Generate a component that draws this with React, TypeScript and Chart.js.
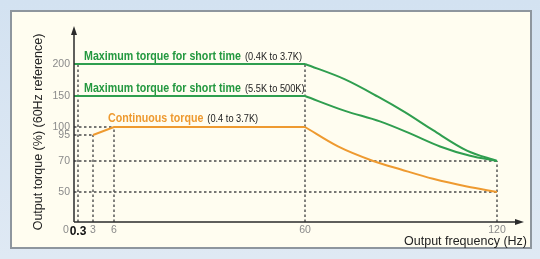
import React, { useEffect, useRef } from 'react';
import { Chart, registerables, LinearScale } from 'chart.js';

// ---- data ----
const X_TICKS = [0, 0.3, 3, 6, 60, 120];
const X_TICK_LABELS = ['', '0.3', '3', '6', '60', '120'];
const Y_TICKS = [50, 70, 95, 100, 150, 200];

// Maximum torque for short time (0.4K to 3.7K)
const maxSmallFlatFreq = [0, 60];
const maxSmallFlatTorque = [200, 200];
const maxSmallFallFreq = [60, 72.5, 82.8, 91.2, 100, 110.6, 120];
const maxSmallFallTorque = [200, 176, 149, 124, 98, 80, 70];

// Maximum torque for short time (5.5K to 500K)
const maxLargeFlatFreq = [0, 60];
const maxLargeFlatTorque = [150, 150];
const maxLargeFallFreq = [60, 72.5, 83.4, 92.8, 102.2, 111.6, 120];
const maxLargeFallTorque = [150, 126, 109, 96, 84, 75, 70];

// Continuous torque (0.4 to 3.7K)
const contFlatFreq = [3, 6, 60];
const contFlatTorque = [95, 100, 100];
const contFallFreq = [60, 70.3, 81.3, 90, 100, 110.6, 120];
const contFallTorque = [100, 84, 70, 64.5, 58.5, 53.5, 50];

// dashed reference lines
const vGuideFreq = [0.3, 3, 6, 60, 120];
const vGuideTop = [200, 95, 100, 200, 70];
const hGuideTorque = [100, 95, 70, 50];
const hGuideEnd = [6, 3, 120, 120];

const GREEN = '#2f9e4f';
const GREEN_TEXT = '#23983f';
const ORANGE = '#ee9a30';
const GUIDE = '#4a4a4a';

const SANS = "'Liberation Sans', Arial, sans-serif";

// ---- piecewise scale for a schematic (non-proportional) axis ----
class PiecewiseScale extends LinearScale {
  static id = 'piecewise';
  static defaults = { ticks: { callback: (v: any) => String(v) } };
  determineDataLimits() {
    const k = (this.options as any).knots as number[][];
    this.min = k[0][0];
    this.max = k[k.length - 1][0];
  }
  buildTicks() {
    const vals = (this.options as any).tickValues as number[];
    return vals.map((v) => ({ value: v }));
  }
  _frac(value: number) {
    const k = (this.options as any).knots as number[][];
    const total = k[k.length - 1][1];
    for (let i = 0; i < k.length - 1; i++) {
      const [v0, p0] = k[i];
      const [v1, p1] = k[i + 1];
      if (value <= v1 || i === k.length - 2) {
        return (p0 + ((value - v0) / (v1 - v0)) * (p1 - p0)) / total;
      }
    }
    return 1;
  }
  getPixelForValue(value: any) {
    if (value === null || value === undefined || isNaN(value)) return NaN;
    return this.getPixelForDecimal(this._frac(+value));
  }
  getValueForPixel(pixel: number) {
    const k = (this.options as any).knots as number[][];
    const total = k[k.length - 1][1];
    const d = this.getDecimalForPixel(pixel) * total;
    for (let i = 0; i < k.length - 1; i++) {
      const [v0, p0] = k[i];
      const [v1, p1] = k[i + 1];
      if (d <= p1 || i === k.length - 2) {
        return v0 + ((d - p0) / (p1 - p0)) * (v1 - v0);
      }
    }
    return this.max;
  }
}

Chart.register(...registerables, PiecewiseScale);

const toPts = (xs: number[], ys: number[]) => xs.map((x, i) => ({ x, y: ys[i] }));

// draw horizontally condensed text, returns drawn width
const condensedText = (ctx: CanvasRenderingContext2D, text: string, x: number, y: number, sx: number) => {
  ctx.save();
  ctx.translate(x, y);
  ctx.scale(sx, 1);
  ctx.fillText(text, 0, 0);
  ctx.restore();
  return ctx.measureText(text).width * sx;
};

const annotationPlugin = {
  id: 'annotations',
  afterDraw(chart: any) {
    const { ctx, chartArea, scales } = chart;
    const xs = scales.x;
    const ys = scales.y;
    const x0 = xs.getPixelForValue(0);
    const y0 = ys.getPixelForValue(0);
    ctx.save();
    // axes
    ctx.strokeStyle = '#2b2b2b';
    ctx.fillStyle = '#2b2b2b';
    ctx.lineWidth = 1.5;
    ctx.beginPath();
    ctx.moveTo(x0, y0);
    ctx.lineTo(x0, chartArea.top + 6);
    ctx.moveTo(x0, y0);
    ctx.lineTo(chartArea.right - 6, y0);
    ctx.stroke();
    ctx.beginPath();
    ctx.moveTo(x0, chartArea.top - 2);
    ctx.lineTo(x0 - 3, chartArea.top + 7);
    ctx.lineTo(x0 + 3, chartArea.top + 7);
    ctx.closePath();
    ctx.fill();
    ctx.beginPath();
    ctx.moveTo(chartArea.right + 2, y0);
    ctx.lineTo(chartArea.right - 7, y0 - 3);
    ctx.lineTo(chartArea.right - 7, y0 + 3);
    ctx.closePath();
    ctx.fill();

    // origin label
    ctx.fillStyle = '#8a8a8a';
    ctx.font = `10.5px ${SANS}`;
    ctx.textAlign = 'center';
    ctx.textBaseline = 'middle';
    ctx.fillText('0', x0 - 8, y0 + 8);

    // axis titles
    ctx.fillStyle = '#222';
    ctx.font = `12.5px ${SANS}`;
    ctx.textAlign = 'right';
    ctx.textBaseline = 'alphabetic';
    ctx.fillText('Output frequency (Hz)', chartArea.right + 5, y0 + 23);
    ctx.save();
    ctx.translate(42, (chartArea.top + y0) / 2 + 7);
    ctx.rotate(-Math.PI / 2);
    ctx.textAlign = 'center';
    ctx.fillText('Output torque (%) (60Hz reference)', 0, 0);
    ctx.restore();

    // series labels
    const drawLabel = (main: string, note: string, color: string, x: number, y: number) => {
      ctx.textAlign = 'left';
      ctx.textBaseline = 'alphabetic';
      ctx.font = `bold 13px ${SANS}`;
      ctx.fillStyle = color;
      const w = condensedText(ctx, main, x, y, 0.82);
      ctx.font = `10.5px ${SANS}`;
      ctx.fillStyle = '#222';
      condensedText(ctx, note, x + w + 4, y, 0.88);
    };
    drawLabel('Maximum torque for short time', '(0.4K to 3.7K)', GREEN_TEXT, x0 + 10, ys.getPixelForValue(200) - 4);
    drawLabel('Maximum torque for short time', '(5.5K to 500K)', GREEN_TEXT, x0 + 10, ys.getPixelForValue(150) - 4);
    drawLabel('Continuous torque', '(0.4 to 3.7K)', ORANGE, x0 + 34, ys.getPixelForValue(100) - 5);
    ctx.restore();
  },
};

export default function App() {
  const ref = useRef<HTMLCanvasElement | null>(null);
  useEffect(() => {
    if (!ref.current) return;
    const line = (xs: number[], ys: number[], color: string, curved: boolean) => ({
      data: toPts(xs, ys),
      borderColor: color,
      borderWidth: 2,
      pointRadius: 0,
      fill: false,
      cubicInterpolationMode: curved ? ('monotone' as const) : ('default' as const),
      tension: 0,
      order: 0,
    });
    const guides: any[] = [];
    vGuideFreq.forEach((f, i) =>
      guides.push({
        data: [{ x: f, y: 0 }, { x: f, y: vGuideTop[i] }],
        borderColor: GUIDE,
        borderWidth: 1.4,
        borderDash: [2.5, 2.5],
        pointRadius: 0,
        order: 1,
      })
    );
    hGuideTorque.forEach((t, i) =>
      guides.push({
        data: [{ x: 0, y: t }, { x: hGuideEnd[i], y: t }],
        borderColor: GUIDE,
        borderWidth: 1.4,
        borderDash: [2.5, 2.5],
        pointRadius: 0,
        order: 1,
      })
    );
    const chart = new Chart(ref.current, {
      type: 'line',
      data: {
        datasets: [
          line(maxSmallFlatFreq, maxSmallFlatTorque, GREEN, false),
          line(maxSmallFallFreq, maxSmallFallTorque, GREEN, true),
          line(maxLargeFlatFreq, maxLargeFlatTorque, GREEN, false),
          line(maxLargeFallFreq, maxLargeFallTorque, GREEN, true),
          line(contFlatFreq, contFlatTorque, ORANGE, false),
          line(contFallFreq, contFallTorque, ORANGE, true),
          ...guides,
        ] as any,
      },
      options: {
        animation: false,
        responsive: false,
        events: [],
        layout: { padding: { left: 0, top: 28, right: 18, bottom: 0 } },
        plugins: { legend: { display: false }, tooltip: { enabled: false } },
        scales: {
          x: {
            type: 'piecewise' as any,
            knots: [[0, 0], [0.3, 4], [3, 19], [6, 40], [60, 231], [120, 423], [140, 448]],
            tickValues: X_TICKS,
            grid: { display: false, drawTicks: false },
            border: { display: false },
            afterFit: (s: any) => { s.height = 37; },
            ticks: {
              autoSkip: false,
              maxRotation: 0,
              padding: 2,
              callback: (_v: any, i: number) => X_TICK_LABELS[i],
              color: (c: any) => (c.tick && c.tick.value === 0.3 ? '#111' : '#8a8a8a'),
              font: (c: any) =>
                c.tick && c.tick.value === 0.3
                  ? { family: SANS, size: 12, weight: 'bold' }
                  : { family: SANS, size: 10.5 },
            },
          } as any,
          y: {
            type: 'piecewise' as any,
            knots: [[0, 0], [50, 30], [70, 61], [95, 87], [100, 95], [150, 126], [200, 158], [256, 194]],
            tickValues: Y_TICKS,
            grid: { display: false, drawTicks: false },
            border: { display: false },
            afterFit: (s: any) => { s.width = 74; },
            ticks: {
              autoSkip: false,
              padding: 4,
              color: '#8a8a8a',
              font: { family: SANS, size: 10.5 },
              callback: (v: any) => String(v),
            },
          } as any,
        },
      },
      plugins: [annotationPlugin],
    });
    return () => chart.destroy();
  }, []);

  return (
    <div style={{ position: 'fixed', left: 0, top: 0, width: 540, height: 259, background: 'linear-gradient(#d3e2f1, #dfe9f4)', overflow: 'hidden' }}>
      <div
        style={{
          position: 'absolute',
          left: 10,
          top: 10,
          width: 518,
          height: 235,
          background: '#fffdf0',
          border: '2px solid #8e969e',
        }}
      />
      <canvas ref={ref} width={540} height={259} style={{ position: 'absolute', left: 0, top: 0, width: 540, height: 259 }} />
    </div>
  );
}
